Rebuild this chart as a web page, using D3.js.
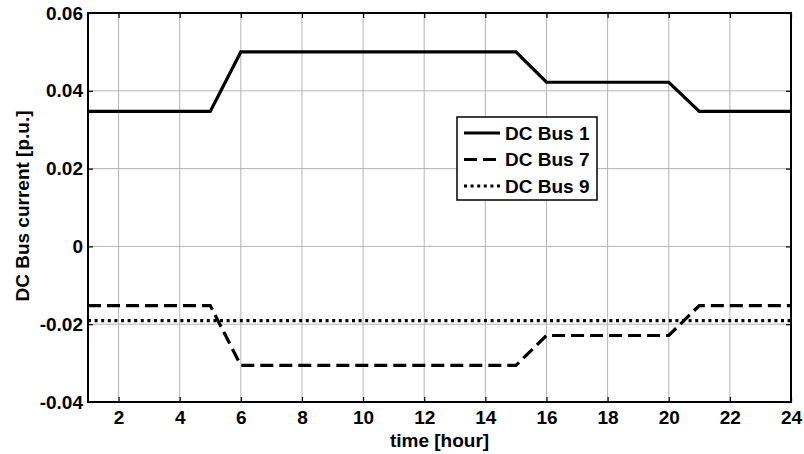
<!DOCTYPE html>
<html>
<head>
<meta charset="utf-8">
<style>
body { margin: 0; background: #fff; }
text { font-family: "Liberation Sans", Arial, sans-serif; font-weight: bold; }
.grid line { stroke: #b4b4b4; stroke-width: 1; }
</style>
<script src="https://cdn.jsdelivr.net/npm/d3@7"></script>
</head>
<body>
<svg width="804" height="454"></svg>
<script>

// data
var hours = [1, 5, 6, 15, 16, 20, 21, 24];
var bus1  = [0.0347, 0.0347, 0.0500, 0.0500, 0.0422, 0.0422, 0.0347, 0.0347];
var bus7  = [-0.0152, -0.0152, -0.0306, -0.0306, -0.0229, -0.0229, -0.0152, -0.0152];
var bus9  = [-0.0191, -0.0191, -0.0191, -0.0191, -0.0191, -0.0191, -0.0191, -0.0191];
var seriesNames = ["DC Bus 1", "DC Bus 7", "DC Bus 9"];
var xTicks = [2, 4, 6, 8, 10, 12, 14, 16, 18, 20, 22, 24];
var yTicks = [-0.04, -0.02, 0, 0.02, 0.04, 0.06];

var svg = d3.select("svg"),
    margin = {top: 13, right: 13, bottom: 52, left: 88},
    width = 804 - margin.left - margin.right,
    height = 454 - margin.top - margin.bottom;

var x = d3.scaleLinear().domain([1, 24]).range([0, width]),
    y = d3.scaleLinear().domain([-0.04, 0.06]).range([height, 0]);

var g = svg.append("g")
    .attr("transform", "translate(" + margin.left + "," + margin.top + ")");

// grid
var grid = g.append("g").attr("class", "grid");
grid.selectAll(".gx").data(xTicks).enter().append("line")
    .attr("x1", function(d) { return x(d); }).attr("x2", function(d) { return x(d); })
    .attr("y1", 0).attr("y2", height);
grid.selectAll(".gy").data(yTicks).enter().append("line")
    .attr("x1", 0).attr("x2", width)
    .attr("y1", function(d) { return y(d); }).attr("y2", function(d) { return y(d); });

var fmt = function(d) { return d === 0 ? "0" : (d < 0 ? "-" : "") + Math.abs(d).toFixed(2); };

// axes with inward ticks
function styleAxis(sel) {
  sel.select(".domain").remove();
  sel.selectAll(".tick line").attr("stroke", "#000").attr("stroke-width", 1.2);
  sel.selectAll(".tick text").style("font-size", "19px").attr("fill", "#000");
}
g.append("g").attr("transform", "translate(0," + height + ")")
    .call(d3.axisBottom(x).tickValues(xTicks).tickSizeInner(-5).tickPadding(9))
    .call(styleAxis);
g.append("g")
    .call(d3.axisTop(x).tickValues(xTicks).tickSizeInner(-5).tickFormat(""))
    .call(styleAxis);
g.append("g")
    .call(d3.axisLeft(y).tickValues(yTicks).tickSizeInner(-5).tickPadding(5).tickFormat(fmt))
    .call(styleAxis);
g.append("g").attr("transform", "translate(" + width + ",0)")
    .call(d3.axisRight(y).tickValues(yTicks).tickSizeInner(-5).tickFormat(""))
    .call(styleAxis);

g.append("rect")
    .attr("width", width).attr("height", height)
    .attr("fill", "none").attr("stroke", "#000").attr("stroke-width", 2);

// series
var series = [
  {name: seriesNames[0], values: bus1, dash: null},
  {name: seriesNames[1], values: bus7, dash: "13,6"},
  {name: seriesNames[2], values: bus9, dash: "3,3.6"}
];

var line = d3.line()
    .x(function(d, i) { return x(hours[i]); })
    .y(function(d) { return y(d); });

g.selectAll(".series").data(series).enter().append("path")
    .attr("class", "series")
    .attr("d", function(s) { return line(s.values); })
    .attr("fill", "none")
    .attr("stroke", "#000")
    .attr("stroke-width", 3.2)
    .attr("stroke-dasharray", function(s) { return s.dash; });

// axis labels
svg.append("text")
    .attr("x", margin.left + width / 2)
    .attr("y", 447)
    .attr("text-anchor", "middle")
    .style("font-size", "19px")
    .text("time [hour]");

svg.append("text")
    .attr("transform", "translate(29,206) rotate(-90)")
    .attr("text-anchor", "middle")
    .style("font-size", "19px")
    .text("DC Bus current [p.u.]");

// legend
var lg = svg.append("g").attr("transform", "translate(457,117)");
lg.append("rect")
    .attr("width", 140).attr("height", 83)
    .attr("fill", "#fff").attr("stroke", "#000").attr("stroke-width", 1.5);
series.forEach(function(s, i) {
  var cy = 16 + i * 26.5;
  lg.append("line")
      .attr("x1", 7).attr("x2", 43)
      .attr("y1", cy).attr("y2", cy)
      .attr("stroke", "#000").attr("stroke-width", 3.2)
      .attr("stroke-dasharray", s.dash);
  lg.append("text")
      .attr("x", 48).attr("y", cy)
      .attr("dy", "0.35em")
      .style("font-size", "19px")
      .text(s.name);
});

</script>
</body>
</html>
